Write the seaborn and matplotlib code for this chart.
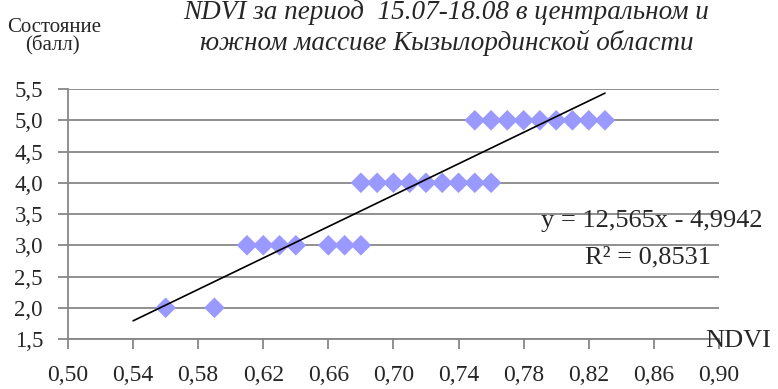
import numpy as np
import pandas as pd
import matplotlib.pyplot as plt
import seaborn as sns

# NDVI values grouped by state score
ndvi = [0.56, 0.59,
        0.61, 0.62, 0.63, 0.64, 0.66, 0.67, 0.68,
        0.68, 0.69, 0.70, 0.71, 0.72, 0.73, 0.74, 0.75, 0.76,
        0.75, 0.76, 0.77, 0.78, 0.79, 0.80, 0.81, 0.82, 0.83]
score = [2, 2,
         3, 3, 3, 3, 3, 3, 3,
         4, 4, 4, 4, 4, 4, 4, 4, 4,
         5, 5, 5, 5, 5, 5, 5, 5, 5]

# linear trend as printed on the chart
slope = 12.565
intercept = -4.9942
r2 = 0.8531
trend_x = [0.54, 0.83]

x_ticks = [0.50, 0.54, 0.58, 0.62, 0.66, 0.70, 0.74, 0.78, 0.82, 0.86, 0.90]
x_labels = ['0,50', '0,54', '0,58', '0,62', '0,66', '0,70', '0,74', '0,78', '0,82', '0,86', '0,90']
y_ticks = [1.5, 2.0, 2.5, 3.0, 3.5, 4.0, 4.5, 5.0, 5.5]
y_labels = ['1,5', '2,0', '2,5', '3,0', '3,5', '4,0', '4,5', '5,0', '5,5']

df = pd.DataFrame({'ndvi': ndvi, 'score': score})

sns.set_style('white')
plt.rcParams['font.family'] = ['Liberation Serif', 'DejaVu Serif']

gray = '#878787'
fig = plt.figure(figsize=(7.78, 3.89), dpi=100)
ax = fig.add_axes([0.0874, 0.1285, 0.8366, 0.6426])

ax.grid(axis='y', color=gray, linewidth=1.3)
ax.set_axisbelow(True)

sns.scatterplot(data=df, x='ndvi', y='score', marker='D', s=110, color='#9999ff',
                edgecolor='none', linewidth=0, ax=ax, zorder=3)

tx = np.array(trend_x)
ax.plot(tx, slope * tx + intercept, color='black', linewidth=1.2, zorder=4)

ax.set_xlim(0.50, 0.90)
ax.set_ylim(1.5, 5.5)
ax.set_xticks(x_ticks)
ax.set_xticklabels(x_labels)
ax.set_yticks(y_ticks)
ax.set_yticklabels(y_labels)
ax.set_xlabel('')
ax.set_ylabel('')

sns.despine(ax=ax, top=True, right=True)
for side in ['left', 'bottom']:
    ax.spines[side].set_color(gray)
    ax.spines[side].set_linewidth(1.3)
ax.tick_params(axis='x', direction='out', length=7, width=1.3, color=gray,
               labelsize=17, pad=12, bottom=True)
ax.tick_params(axis='y', direction='out', length=7, width=1.3, color=gray,
               labelsize=16.5, pad=11, left=True)

# trendline label
fig.text(0.838, 0.416, f'y = {slope:.3f}x - {-intercept:.4f}'.replace('.', ','),
         ha='center', va='baseline', fontsize=19)
fig.text(0.833, 0.324, f'R² = {r2:.4f}'.replace('.', ','),
         ha='center', va='baseline', fontsize=19)
fig.text(0.906, 0.108, 'NDVI', ha='left', va='baseline', fontsize=19)

fig.text(0.574, 0.952, 'NDVI за период  15.07-18.08 в центральном и', ha='center',
         va='baseline', fontsize=19.5, style='italic')
fig.text(0.574, 0.8715, 'южном массиве Кызылординской области', ha='center',
         va='baseline', fontsize=19.5, style='italic')
fig.text(0.070, 0.918, 'Состояние', ha='center', va='baseline', fontsize=15)
fig.text(0.067, 0.871, '(балл)', ha='center', va='baseline', fontsize=15)

fig.savefig('out.png', dpi=100)
